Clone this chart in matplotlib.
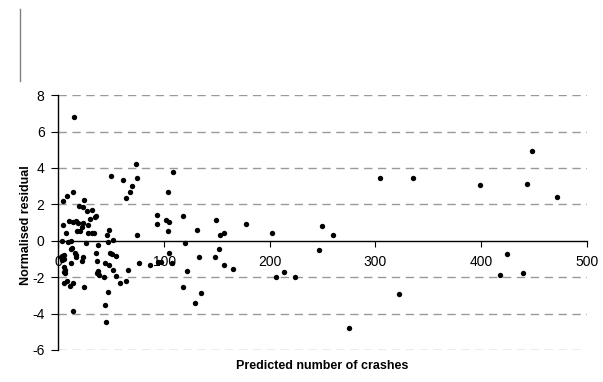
import matplotlib
matplotlib.use("Agg")
import matplotlib.pyplot as plt
from matplotlib.lines import Line2D

plt.rcParams["font.family"] = ["Liberation Sans", "DejaVu Sans"]
plt.rcParams["axes.unicode_minus"] = False

# predicted number of crashes vs normalised residual
predicted = [
    14.7, 4.3, 8.0, 14.0, 24.0, 19.4, 23.0, 26.7, 31.7, 34.5, 35.8, 29.5, 9.6, 14.0,
    16.8, 18.2, 4.3, 23.5, 22.0, 28.2, 17.8, 20.3, 7.1, 28.2, 31.4, 33.9, 45.9, 47.5,
    51.9, 3.6, 9.3, 11.5, 25.7, 37.7, 46.5, 49.7, 61.3, 73.0, 74.0, 69.5, 67.4, 63.6,
    74.0, 103.3, 108.3, 93.5, 92.9, 102.0, 104.3, 103.3, 117.8, 131.0, 119.4, 104.3,
    133.0, 13.0, 11.8, 15.3, 3.3, 5.2, 2.0, 3.0, 5.5, 11.5, 16.6, 16.3, 23.5, 22.5,
    35.8, 36.4, 48.4, 50.6, 54.7, 44.3, 47.8, 37.0, 36.4, 38.3, 43.0, 51.3, 54.7,
    58.5, 64.1, 65.8, 76.4, 86.6, 94.4, 97.0, 107.1, 121.6, 118.0, 134.5, 129.0,
    24.1, 13.7, 10.6, 5.2, 7.8, 6.1, 5.2, 14.0, 44.0, 44.7, 46.5, 5.2, 6.1,
    149.3, 152.8, 156.6, 177.4, 202.3, 147.8, 151.6, 156.6, 164.8, 205.8, 213.3,
    223.5, 246.7, 249.0, 260.0, 304.2, 335.7, 399.0, 322.1, 274.8, 425.0, 417.7,
    443.0, 448.0, 471.5, 439.5,
]
residual = [
    6.78, 2.18, 2.44, 2.69, 2.24, 1.90, 1.83, 1.65, 1.69, 1.32, 1.36, 1.17, 1.08, 1.01,
    1.08, 0.99, 0.86, 0.95, 0.77, 0.88, 0.53, 0.53, 0.41, 0.41, 0.44, 0.44, 0.33, 0.57,
    0.05, -0.02, -0.09, -0.03, -0.11, -0.24, -0.09, 3.54, 3.33, 4.21, 3.46, 3.00, 2.66, 2.33,
    0.31, 2.69, 3.79, 1.43, 0.92, 1.12, 1.01, 0.53, 1.37, 0.57, -0.14, -0.66,
    -0.90, -0.42, -0.47, -0.69, -0.82, -0.79, -0.88, -1.06, -0.99, -1.24, -0.91, -0.80, -0.91, -1.11,
    -0.66, -1.13, -0.69, -0.73, -0.86, -1.24, -1.35, -1.68, -1.79, -1.90, -2.01, -1.63, -1.94,
    -2.34, -2.20, -1.59, -1.24, -1.35, -1.15, -1.17, -1.24, -1.65, -2.56, -2.86, -3.44,
    -2.53, -2.34, -2.49, -2.34, -2.20, -1.79, -1.72, -3.85, -3.53, -4.48, -2.82, -1.43, -1.61,
    1.14, 0.30, 0.41, 0.90, 0.41, -0.91, -0.44, -1.34, -1.55, -2.01, -1.72,
    -2.01, -0.53, 0.79, 0.31, 3.46, 3.46, 3.08, -2.91, -4.81, -0.73, -1.88,
    3.10, 4.95, 2.38, -1.75,
]

x_ticks = [0, 100, 200, 300, 400, 500]
y_ticks = [-6, -4, -2, 0, 2, 4, 6, 8]

fig = plt.figure(figsize=(6.03, 3.82), dpi=100)
ax = fig.add_axes([0.097, 0.084, 0.876, 0.667])

for y in y_ticks:
    if y != 0:
        ax.axhline(y, color="#999999", lw=1.0, linestyle=(0, (6, 4)), zorder=1)

ax.scatter(predicted, residual, s=15, color="black", zorder=3, linewidths=0)

ax.set_xlim(0, 500)
ax.set_ylim(-6, 8)
ax.set_xticks(x_ticks)
ax.set_yticks(y_ticks)

ax.spines["top"].set_visible(False)
ax.spines["right"].set_visible(False)
ax.spines["bottom"].set_position(("data", 0))
ax.spines["bottom"].set_zorder(2)
for side in ["left", "bottom"]:
    ax.spines[side].set_linewidth(1.0)
    ax.spines[side].set_color("black")

ax.tick_params(axis="x", direction="out", length=4, pad=6, labelsize=10, colors="black")
ax.tick_params(axis="y", direction="out", length=5, pad=5, labelsize=10, colors="black")

ax.set_ylabel("Normalised residual", fontsize=9, fontweight="bold")
ax.yaxis.set_label_coords(-0.05, 0.49)
fig.text(0.534, 0.025, "Predicted number of crashes", fontsize=9, fontweight="bold",
         ha="center", va="bottom")

# stray vertical line at top left
fig.add_artist(Line2D([20.3 / 603, 20.3 / 603], [1 - 9 / 382, 1 - 80.7 / 382],
                      color="#808080", lw=1.0))

fig.savefig("out.png", dpi=100)
